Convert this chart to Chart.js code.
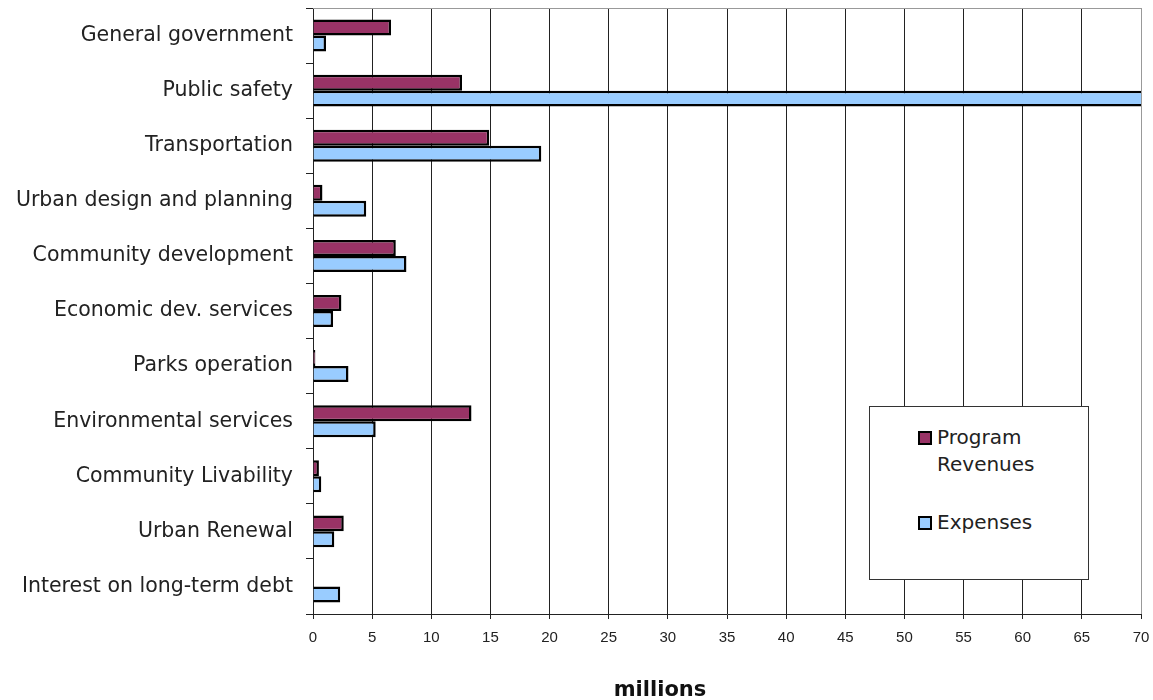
<!DOCTYPE html>
<html>
<head>
<meta charset="utf-8">
<script src="https://cdn.jsdelivr.net/npm/chart.js@4"></script>
<style>
    html, body { margin: 0; padding: 0; background: #fff; }
    #wrap { position: relative; width: 1153px; height: 700px; }
    #legendBox {
        position: absolute; left: 869px; top: 406px;
        width: 218px; height: 172px;
        border: 1px solid #333; background: #fff;
        font-family: "DejaVu Sans", sans-serif; font-size: 20px; line-height: 27px; color: #222;
    }
    #legendBox ul { list-style: none; margin: 0; padding: 17px 0 0 48px; }
    #legendBox li { display: flex; align-items: flex-start; margin-bottom: 31px; }
    #legendBox .swatch { width: 10px; height: 10px; border: 2px solid #000; margin: 7px 5px 0 0; flex: none; }
    #legendBox .txt { width: 120px; }
</style>
</head>
<body>
<div id="wrap">
    <canvas id="mainChart" width="1153" height="700"></canvas>
    <div id="legendBox"></div>
</div>
<script>
// Danh mục chương trình (trục dọc)
const categories = [
    'General government',
    'Public safety',
    'Transportation',
    'Urban design and planning',
    'Community development',
    'Economic dev. services',
    'Parks operation',
    'Environmental services',
    'Community Livability',
    'Urban Renewal',
    'Interest on long-term debt'
];

// Đơn vị: triệu
const programRevenues = [6.6, 12.6, 14.9, 0.8, 7.0, 2.4, 0.2, 13.4, 0.5, 2.6, 0];
const expenses = [1.1, 72, 19.3, 4.5, 7.9, 1.7, 3.0, 5.3, 0.7, 1.8, 2.3];

const xMin = 0, xMax = 70, xStep = 5;

// Đường viền phía trên vùng vẽ + nhãn "millions"
const frameAndTitle = {
    id: 'frameAndTitle',
    beforeDatasetsDraw(chart) {
        const { ctx, chartArea } = chart;
        ctx.save();
        ctx.strokeStyle = '#999';
        ctx.lineWidth = 1;
        ctx.beginPath();
        ctx.moveTo(chartArea.left, chartArea.top + 0.5);
        ctx.lineTo(chartArea.right, chartArea.top + 0.5);
        ctx.stroke();
        ctx.restore();
    },
    afterDraw(chart) {
        const { ctx } = chart;
        ctx.save();
        ctx.font = 'bold 21px "DejaVu Sans", sans-serif';
        ctx.fillStyle = '#111';
        ctx.textAlign = 'center';
        ctx.textBaseline = 'alphabetic';
        ctx.fillText('millions', 660, 696);
        ctx.restore();
    }
};

const ctx = document.getElementById('mainChart').getContext('2d');
const myChart = new Chart(ctx, {
    type: 'bar',
    data: {
        labels: categories,
        datasets: [
            {
                label: 'Program Revenues',
                data: programRevenues,
                backgroundColor: '#993366',
                borderColor: '#000',
                borderWidth: 2.5,
                clip: 0
            },
            {
                label: 'Expenses',
                data: expenses,
                backgroundColor: '#99ccff',
                borderColor: '#000',
                borderWidth: 2.5,
                clip: 0
            }
        ]
    },
    options: {
        indexAxis: 'y',
        responsive: false,
        animation: false,
        categoryPercentage: 0.58,
        barPercentage: 1.0,
        layout: { padding: { top: 8, right: 12, bottom: 0, left: 0 } },
        plugins: {
            legend: { display: false },
            tooltip: { enabled: false }
        },
        scales: {
            x: {
                min: xMin,
                max: xMax,
                afterFit(scale) {
                    scale.height = 86;
                    scale.paddingLeft = 0;
                    scale.paddingRight = 0;
                },
                ticks: {
                    stepSize: xStep,
                    padding: 10,
                    color: '#222',
                    font: { family: '"Liberation Sans", Arial, sans-serif', size: 15 }
                },
                grid: {
                    color: c => (c.tick && c.tick.value === xMax ? '#999' : '#222'),
                    tickColor: '#222',
                    tickLength: 5,
                    lineWidth: 1
                },
                border: { color: '#222', width: 1 }
            },
            y: {
                afterFit(scale) {
                    scale.width = 313;
                    scale.paddingTop = 0;
                    scale.paddingBottom = 0;
                },
                ticks: {
                    padding: 13,
                    color: '#222',
                    font: { family: '"DejaVu Sans", sans-serif', size: 20.5 }
                },
                grid: {
                    drawOnChartArea: false,
                    tickColor: '#222',
                    tickLength: 7
                },
                border: { color: '#222', width: 1 }
            }
        }
    },
    plugins: [frameAndTitle]
});

// Chú thích dạng HTML đặt trong vùng vẽ
function renderLegend(chart) {
    const box = document.getElementById('legendBox');
    const ul = document.createElement('ul');
    chart.data.datasets.forEach(ds => {
        const li = document.createElement('li');
        const sw = document.createElement('span');
        sw.className = 'swatch';
        sw.style.background = ds.backgroundColor;
        const txt = document.createElement('span');
        txt.className = 'txt';
        txt.innerText = ds.label;
        li.appendChild(sw);
        li.appendChild(txt);
        ul.appendChild(li);
    });
    box.appendChild(ul);
}
renderLegend(myChart);
</script>
</body>
</html>
